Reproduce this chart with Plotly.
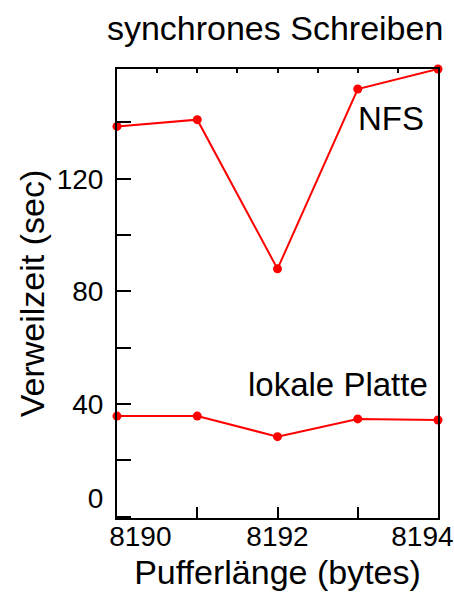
import plotly.graph_objects as go

buffer_len = [8190, 8191, 8192, 8193, 8194]
nfs = [138.6, 141.0, 88.0, 151.9, 159.0]
lokal = [35.7, 35.7, 28.4, 34.7, 34.3]
y_ticks = [0, 40, 80, 120]
y_tick_text = ["0<br>\u00a0", "40", "80", "120"]
x_tick_vals = [8190, 8191, 8192, 8193, 8194]
x_tick_text = ["\u00a0" * 6 + "8190", "", "8192", "", "8194" + "\u00a0" * 4]

FONT = "Liberation Sans, Arial, sans-serif"
RED = "#ff0000"

fig = go.Figure()
for name, ys in [("NFS", nfs), ("lokale Platte", lokal)]:
    fig.add_trace(go.Scatter(x=buffer_len, y=ys, mode="lines+markers", name=name,
                             line=dict(color=RED, width=2),
                             marker=dict(color=RED, size=9),
                             cliponaxis=False, showlegend=False))

# invisible trace carrying the top axis ticks
fig.add_trace(go.Scatter(x=buffer_len, y=nfs, xaxis="x2", mode="none",
                         showlegend=False, hoverinfo="skip"))

fig.add_annotation(x=8193.41, y=141.3, text="NFS", showarrow=False,
                   font=dict(family=FONT, size=33, color="black"))
fig.add_annotation(x=8192.76, y=46.8, text="lokale Platte", showarrow=False,
                   font=dict(family=FONT, size=33, color="black"))

fig.update_layout(
    width=454, height=607,
    margin=dict(l=117, r=16, t=69, b=89, autoexpand=False),
    paper_bgcolor="white", plot_bgcolor="white",
    font=dict(family=FONT, size=28, color="black"),
    title=dict(text="synchrones Schreiben", x=0.606, xanchor="center",
               y=0.954, yanchor="middle", font=dict(family=FONT, size=34)),
    xaxis=dict(range=[8190, 8194], tickvals=x_tick_vals, ticktext=x_tick_text,
               ticks="inside", ticklen=11, tickwidth=1.5, tickcolor="black",
               ticklabeloverflow="allow", ticklabelstandoff=-8, automargin=False,
               showline=True, linecolor="black", linewidth=2, mirror=True,
               showgrid=False, zeroline=False,
               title=dict(text="Pufferlänge (bytes)", font=dict(size=34), standoff=10),
               tickfont=dict(size=28)),
    xaxis2=dict(range=[8190, 8194], overlaying="x", side="top", dtick=0.5,
                tick0=8190, ticks="inside", ticklen=4, tickwidth=1.5,
                tickcolor="black", showticklabels=False, showgrid=False,
                zeroline=False, showline=False, automargin=False),
    yaxis=dict(range=[-0.5, 159], tickvals=y_ticks, ticktext=y_tick_text,
               ticks="inside", ticklen=14, tickwidth=1.5, tickcolor="black",
               ticklabelstandoff=6, automargin=False,
               minor=dict(dtick=20, tick0=0, ticks="inside", ticklen=14,
                          tickwidth=1.5, tickcolor="black"),
               showline=True, linecolor="black", linewidth=2, mirror=True,
               showgrid=False, zeroline=False,
               title=dict(text="Verweilzeit (sec)", font=dict(size=34), standoff=2),
               tickfont=dict(size=28)),
)

fig.write_html("out.html", config={"displayModeBar": False},
               post_script="document.body.style.margin='0';document.body.style.overflow='hidden';")
